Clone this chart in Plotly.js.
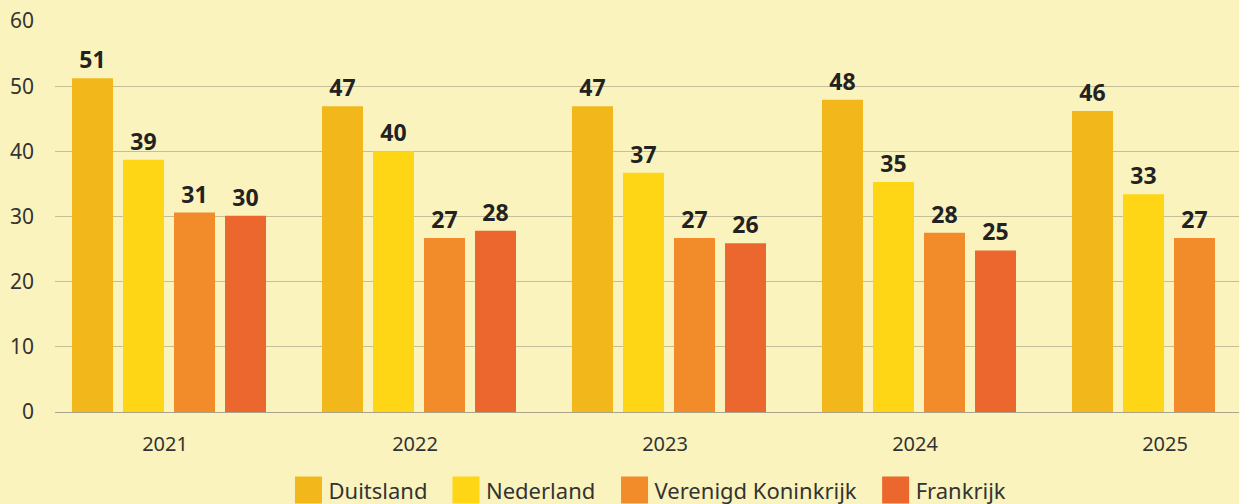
<!DOCTYPE html>
<html>
<head>
<meta charset="utf-8">
<script src="https://cdn.plot.ly/plotly-3.0.1.min.js"></script>
<style>html,body{margin:0;padding:0;background:#FAF3BD;overflow:hidden;}#chart{width:1239px;height:504px;}</style>
</head>
<body>
<div id="chart"></div>
<script>
const years = ['2021', '2022', '2023', '2024', '2025'];
const duitsland = [51.2, 46.9, 46.9, 47.9, 46.2];
const nederland = [38.7, 40.0, 36.7, 35.3, 33.4];
const verenigdKoninkrijk = [30.6, 26.7, 26.7, 27.5, 26.7];
const frankrijk = [30.1, 27.8, 25.9, 24.8, null];
const seriesNames = ['Duitsland', 'Nederland', 'Verenigd Koninkrijk', 'Frankrijk'];
const seriesColors = ['#F2B71B', '#FFD616', '#F28C2B', '#EC672E'];
const seriesValues = [duitsland, nederland, verenigdKoninkrijk, frankrijk];

const barWidth = 0.164;
const barPitch = 0.204;
const groupShift = 0.016;
const legendIds = ['legend', 'legend2', 'legend3', 'legend4'];
const legendX = [0.1972, 0.3302, 0.4726, 0.6931];

const traces = seriesValues.map((vals, i) => ({
  type: 'bar',
  name: seriesNames[i],
  legend: legendIds[i],
  x: years,
  y: vals,
  width: barWidth,
  offset: -2 * barPitch + (barPitch - barWidth) / 2 + i * barPitch + groupShift,
  marker: {color: seriesColors[i]},
  texttemplate: '%{y:.0f}',
  textposition: 'outside',
  cliponaxis: false,
  textfont: {family: 'Noto Sans, sans-serif', size: 23, color: '#222222', weight: 'bold'},
  hoverinfo: 'x+y+name'
}));

const layout = {
  width: 1239,
  height: 504,
  paper_bgcolor: '#FAF3BD',
  plot_bgcolor: '#FAF3BD',
  margin: {l: 55, r: 0, t: 21, b: 92, autoexpand: false},
  barmode: 'group',
  font: {family: 'Noto Sans, sans-serif', color: '#333333'},
  xaxis: {
    type: 'category',
    range: [-0.44, 4.296],
    showgrid: false,
    showline: false,
    zeroline: false,
    ticks: '',
    ticklabelstandoff: 18,
    tickfont: {size: 20, color: '#333333'}
  },
  yaxis: {
    range: [0, 60],
    dtick: 10,
    showgrid: true,
    gridcolor: '#C4BF98',
    gridwidth: 1,
    zeroline: true,
    zerolinecolor: '#A9A48A',
    zerolinewidth: 1,
    showline: false,
    ticks: '',
    ticklabelstandoff: 20,
    tickfont: {size: 21, color: '#333333'}
  },
  showlegend: true
};

legendIds.forEach((id, i) => {
  layout[id] = {
    orientation: 'h',
    x: legendX[i],
    xanchor: 'left',
    y: -0.2,
    yanchor: 'middle',
    font: {size: 22, color: '#333333'},
    itemwidth: 30,
    bgcolor: 'rgba(0,0,0,0)',
    borderwidth: 0
  };
});

Plotly.newPlot('chart', traces, layout, {displayModeBar: false, staticPlot: true}).then(() => {
  document.querySelectorAll('#chart .legendpoints path').forEach(p => {
    const t = p.getAttribute('transform') || '';
    p.setAttribute('transform', t + ' scale(2.25)');
    p.style.strokeWidth = '0';
  });
});
</script>
</body>
</html>
